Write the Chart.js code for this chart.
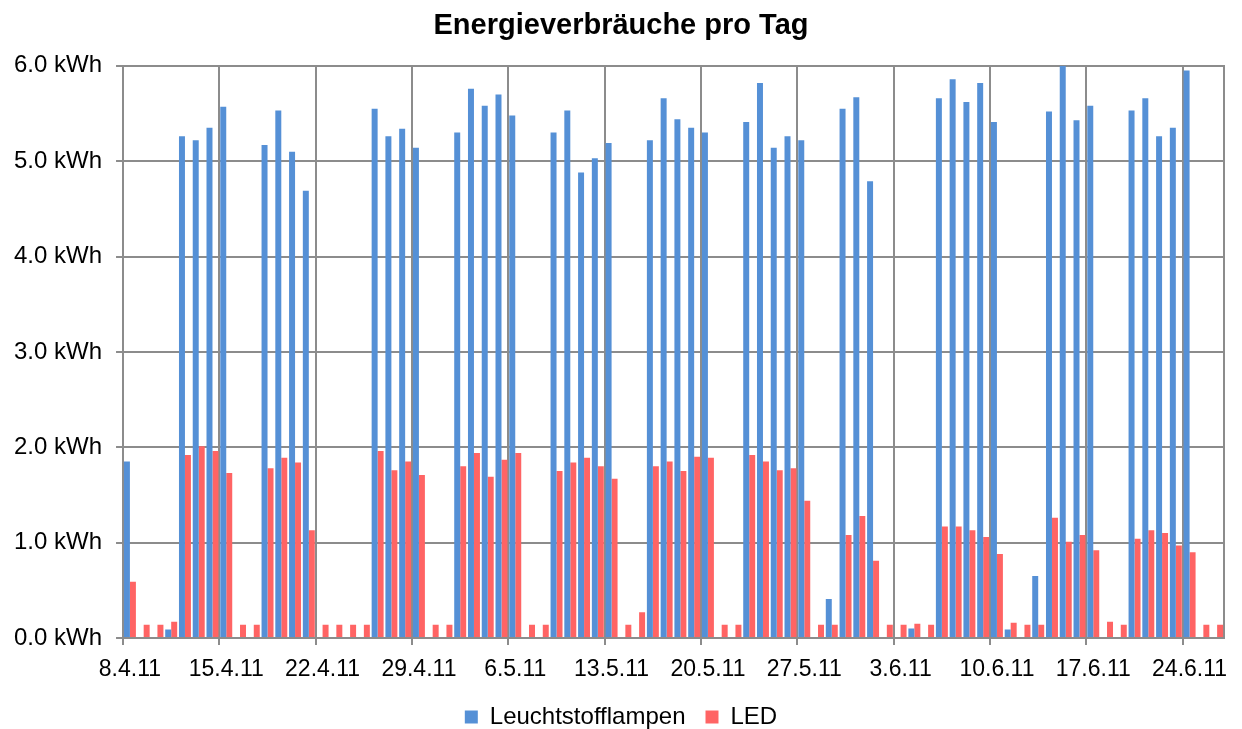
<!DOCTYPE html>
<html>
<head>
<meta charset="utf-8">
<script src="https://cdn.jsdelivr.net/npm/chart.js@4"></script>
<style>
  body { margin: 0; background: #fff; }
  #wrap { width: 1242px; height: 729px; position: relative; }
</style>
</head>
<body>
<div id="wrap"><canvas id="energyChart"></canvas></div>
<script>
// one entry per day, 8.4.11 - 26.6.11
const dates = [
  "8.4.11", "9.4.11", "10.4.11", "11.4.11", "12.4.11", "13.4.11", "14.4.11", "15.4.11", "16.4.11", "17.4.11",
  "18.4.11", "19.4.11", "20.4.11", "21.4.11", "22.4.11", "23.4.11", "24.4.11", "25.4.11", "26.4.11", "27.4.11",
  "28.4.11", "29.4.11", "30.4.11", "1.5.11", "2.5.11", "3.5.11", "4.5.11", "5.5.11", "6.5.11", "7.5.11",
  "8.5.11", "9.5.11", "10.5.11", "11.5.11", "12.5.11", "13.5.11", "14.5.11", "15.5.11", "16.5.11", "17.5.11",
  "18.5.11", "19.5.11", "20.5.11", "21.5.11", "22.5.11", "23.5.11", "24.5.11", "25.5.11", "26.5.11", "27.5.11",
  "28.5.11", "29.5.11", "30.5.11", "31.5.11", "1.6.11", "2.6.11", "3.6.11", "4.6.11", "5.6.11", "6.6.11",
  "7.6.11", "8.6.11", "9.6.11", "10.6.11", "11.6.11", "12.6.11", "13.6.11", "14.6.11", "15.6.11", "16.6.11",
  "17.6.11", "18.6.11", "19.6.11", "20.6.11", "21.6.11", "22.6.11", "23.6.11", "24.6.11", "25.6.11", "26.6.11"
];

// kWh per day
const leuchtstoff = [
  1.85, null, null, 0.09, 5.26, 5.22, 5.35, 5.57, null, null,
  5.17, 5.53, 5.10, 4.69, null, null, null, null, 5.55, 5.26,
  5.34, 5.14, null, null, 5.30, 5.76, 5.58, 5.70, 5.48, null,
  null, 5.30, 5.53, 4.88, 5.03, 5.19, null, null, 5.22, 5.66,
  5.44, 5.35, 5.30, null, null, 5.41, 5.82, 5.14, 5.26, 5.22,
  null, 0.41, 5.55, 5.67, 4.79, null, null, 0.10, null, 5.66,
  5.86, 5.62, 5.82, 5.41, 0.09, null, 0.65, 5.52, 6.00, 5.43,
  5.58, null, null, 5.53, 5.66, 5.26, 5.35, 5.95, null, null
];

const led = [
  0.59, 0.14, 0.14, 0.17, 1.92, 2.01, 1.96, 1.73, 0.14, 0.14,
  1.78, 1.89, 1.84, 1.13, 0.14, 0.14, 0.14, 0.14, 1.96, 1.76,
  1.85, 1.71, 0.14, 0.14, 1.80, 1.94, 1.69, 1.87, 1.94, 0.14,
  0.14, 1.75, 1.84, 1.89, 1.80, 1.67, 0.14, 0.27, 1.80, 1.85,
  1.75, 1.90, 1.89, 0.14, 0.14, 1.92, 1.85, 1.76, 1.78, 1.44,
  0.14, 0.14, 1.08, 1.28, 0.81, 0.14, 0.14, 0.15, 0.14, 1.17,
  1.17, 1.13, 1.06, 0.88, 0.16, 0.14, 0.14, 1.26, 1.01, 1.08,
  0.92, 0.17, 0.14, 1.04, 1.13, 1.10, 0.97, 0.90, 0.14, 0.14
];

const yTicks = [0, 1, 2, 3, 4, 5, 6];

const gridGray = "#8c8c8c";
const fontFamily = "'Liberation Sans', Arial, sans-serif";

// every 7th day gets a grid line + label
function weekly(ctx) {
  return ctx.index % 7 === 0 || ctx.index === dates.length ? gridGray : "rgba(0,0,0,0)";
}

new Chart(document.getElementById("energyChart"), {
  type: "bar",
  data: {
    labels: dates,
    datasets: [
      {
        label: "Leuchtstofflampen",
        data: leuchtstoff,
        backgroundColor: "#5590d6",
        barPercentage: 1.0,
        categoryPercentage: 0.87
      },
      {
        label: "LED",
        data: led,
        backgroundColor: "#ff6464",
        barPercentage: 1.0,
        categoryPercentage: 0.87
      }
    ]
  },
  options: {
    responsive: true,
    maintainAspectRatio: false,
    animation: false,
    layout: { padding: { left: 0, right: 0, top: 0, bottom: 0 } },
    plugins: {
      title: {
        display: true,
        text: "Energieverbräuche pro Tag",
        color: "#000",
        font: { family: fontFamily, size: 29, weight: "bold" },
        padding: { top: 9, bottom: 22 }
      },
      legend: {
        position: "bottom",
        maxHeight: 44,
        labels: {
          color: "#000",
          font: { family: fontFamily, size: 24 },
          boxWidth: 13,
          boxHeight: 13,
          padding: 20
        }
      },
      tooltip: { enabled: false }
    },
    scales: {
      x: {
        afterFit: axis => { axis.height = 47; },
        grid: {
          offset: true,
          color: weekly,
          tickColor: ctx => ctx.index % 7 === 0 ? gridGray : "rgba(0,0,0,0)",
          lineWidth: 2,
          tickLength: 7
        },
        border: { color: gridGray, width: 2 },
        ticks: {
          autoSkip: false,
          maxRotation: 0,
          color: "#000",
          font: { family: fontFamily, size: 23 },
          padding: 11,
          callback: function(value, index) {
            return index % 7 === 0 ? dates[index] : "";
          }
        }
      },
      y: {
        min: 0,
        max: 6,
        afterBuildTicks: axis => { axis.ticks = yTicks.map(v => ({ value: v })); },
        grid: { color: gridGray, lineWidth: 2, tickLength: 7 },
        border: { color: gridGray, width: 2 },
        ticks: {
          color: "#000",
          font: { family: fontFamily, size: 24 },
          padding: 14,
          callback: v => v.toFixed(1) + " kWh"
        }
      },
      // empty right axis: keeps the right margin and draws the frame edge
      yRight: {
        position: "right",
        min: 0,
        max: 6,
        afterFit: axis => { axis.width = 18; },
        grid: { display: false },
        border: { display: true, color: gridGray, width: 2 },
        ticks: { display: false }
      }
    }
  }
});
</script>
</body>
</html>
